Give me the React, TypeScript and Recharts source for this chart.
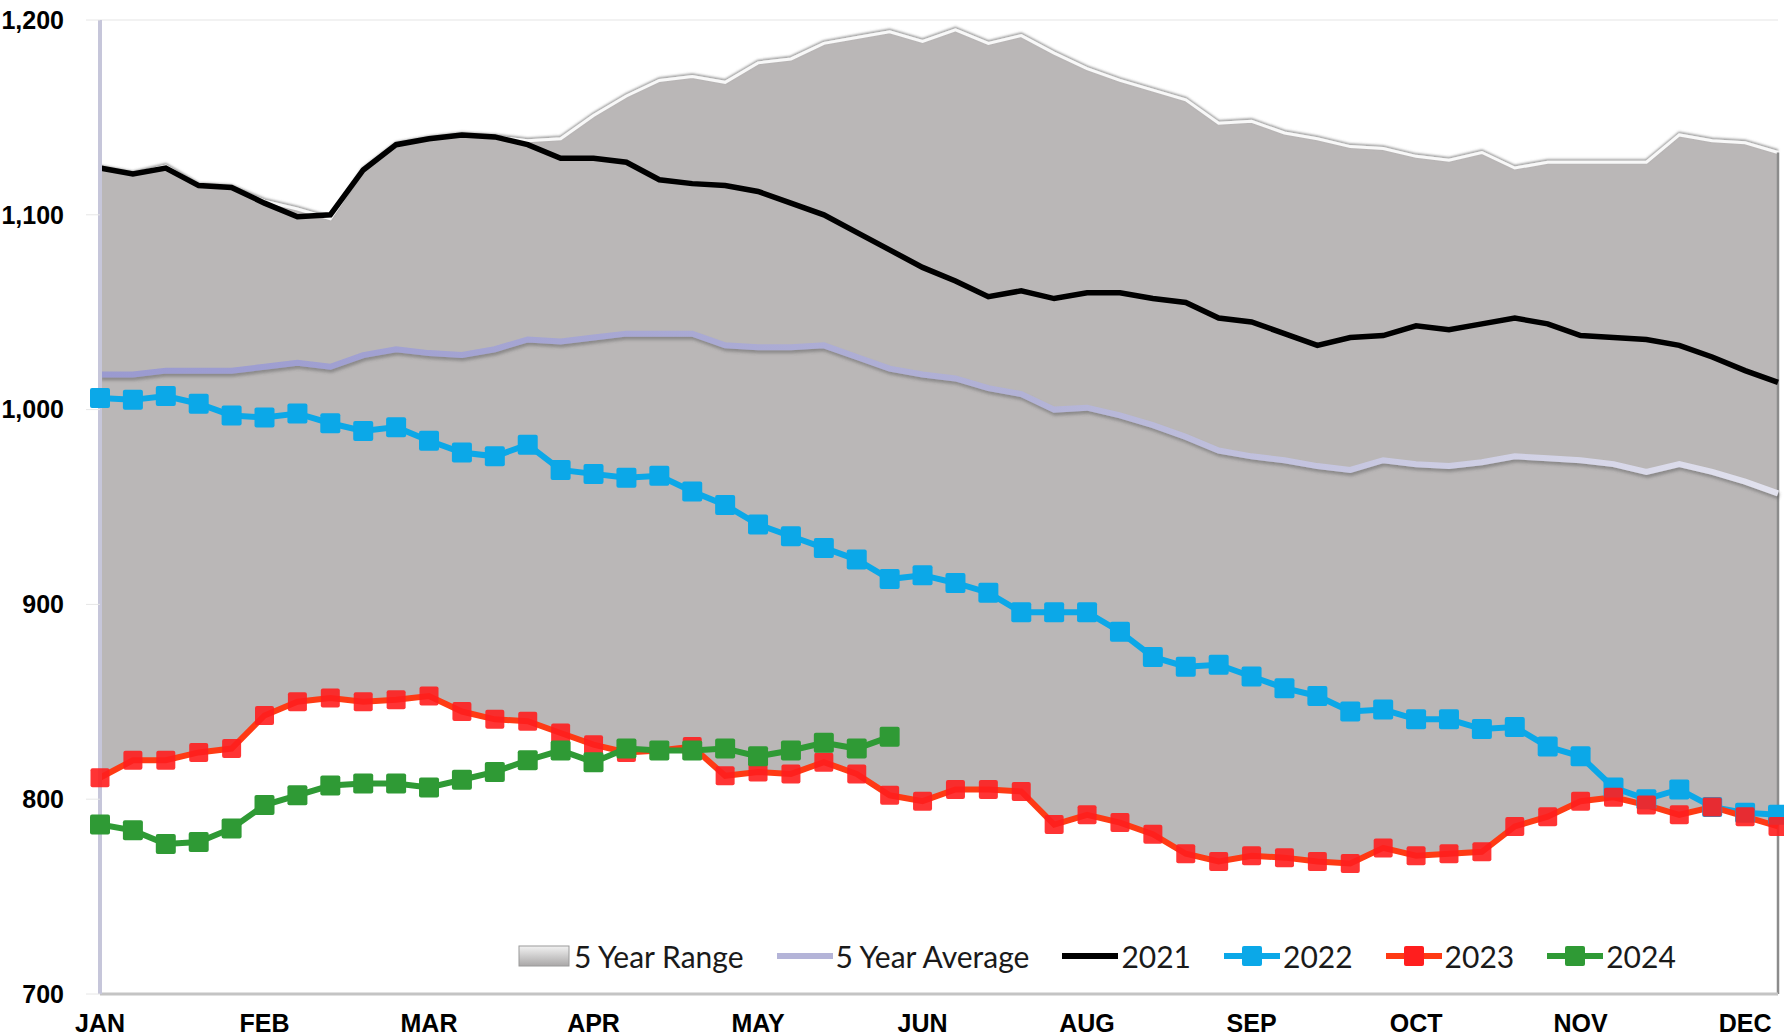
import React from 'react';
import {
  Area,
  ComposedChart,
  Line,
  ReferenceLine,
  XAxis,
  YAxis,
} from 'recharts';

// month label of each week-ending date (52 weeks)
const weekMonth = [
  'JAN', 'JAN', 'JAN', 'JAN',
  'FEB', 'FEB', 'FEB', 'FEB',
  'MAR', 'MAR', 'MAR', 'MAR', 'MAR',
  'APR', 'APR', 'APR', 'APR',
  'MAY', 'MAY', 'MAY', 'MAY', 'MAY',
  'JUN', 'JUN', 'JUN', 'JUN',
  'JUL', 'JUL', 'JUL', 'JUL',
  'AUG', 'AUG', 'AUG', 'AUG', 'AUG',
  'SEP', 'SEP', 'SEP', 'SEP',
  'OCT', 'OCT', 'OCT', 'OCT',
  'NOV', 'NOV', 'NOV', 'NOV', 'NOV',
  'DEC', 'DEC', 'DEC', 'DEC',
];
const tickWeeks = [0, 5, 10, 15, 20, 25, 30, 35, 40, 45, 50];
const yTicks = [700, 800, 900, 1000, 1100, 1200];

const rangeMax = [
  1124, 1121, 1125, 1115, 1114, 1107, 1103, 1098, 1123, 1136, 1139, 1141, 1140,
  1138, 1139, 1151, 1161, 1169, 1171, 1168, 1178, 1180, 1188, 1191, 1194, 1189,
  1195, 1188, 1192, 1183, 1175, 1169, 1164, 1159, 1147, 1148, 1142, 1139, 1135,
  1134, 1130, 1128, 1132, 1124, 1127, 1127, 1127, 1127, 1141, 1138, 1137, 1132,
];
const rangeLow = [
  811, 820, 820, 824, 826, 843, 850, 852, 850, 851, 853, 845, 841,
  840, 834, 828, 824, 825, 827, 812, 814, 813, 819, 813, 802, 799,
  805, 805, 804, 787, 792, 788, 782, 772, 768, 771, 770, 768, 767,
  775, 771, 772, 773, 786, 791, 799, 801, 797, 792, 796, 791, 786,
];
const avg5 = [
  1018, 1018, 1020, 1020, 1020, 1022, 1024, 1022, 1028, 1031, 1029, 1028, 1031,
  1036, 1035, 1037, 1039, 1039, 1039, 1033, 1032, 1032, 1033, 1027, 1021, 1018,
  1016, 1011, 1008, 1000, 1001, 997, 992, 986, 979, 976, 974, 971, 969,
  974, 972, 971, 973, 976, 975, 974, 972, 968, 972, 968, 963, 957,
];
const y2021 = [
  1124, 1121, 1124, 1115, 1114, 1106, 1099, 1100, 1123, 1136, 1139, 1141, 1140,
  1136, 1129, 1129, 1127, 1118, 1116, 1115, 1112, 1106, 1100, 1091, 1082, 1073,
  1066, 1058, 1061, 1057, 1060, 1060, 1057, 1055, 1047, 1045, 1039, 1033, 1037,
  1038, 1043, 1041, 1044, 1047, 1044, 1038, 1037, 1036, 1033, 1027, 1020, 1014,
];
const y2022 = [
  1006, 1005, 1007, 1003, 997, 996, 998, 993, 989, 991, 984, 978, 976,
  982, 969, 967, 965, 966, 958, 951, 941, 935, 929, 923, 913, 915,
  911, 906, 896, 896, 896, 886, 873, 868, 869, 863, 857, 853, 845,
  846, 841, 841, 836, 837, 827, 822, 806, 800, 805, 796, 793, 792,
];
const y2023 = [
  811, 820, 820, 824, 826, 843, 850, 852, 850, 851, 853, 845, 841,
  840, 834, 828, 824, 825, 827, 812, 814, 813, 819, 813, 802, 799,
  805, 805, 804, 787, 792, 788, 782, 772, 768, 771, 770, 768, 767,
  775, 771, 772, 773, 786, 791, 799, 801, 797, 792, 796, 791, 786,
];
const y2024 = [
  787, 784, 777, 778, 785, 797, 802, 807, 808, 808, 806, 810, 814,
  820, 825, 819, 826, 825, 825, 826, 822, 825, 829, 826, 832,
];

const BLUE = '#0BA8E8';
const RED_LINE = '#FF3A14';
const RED_DOT = '#FF1E1E';
const GREEN = '#2F9A35';

const data = weekMonth.map((_, i) => ({
  week: i,
  range: [rangeLow[i], rangeMax[i]],
  rangeTop: rangeMax[i],
  avg: avg5[i],
  y2021: y2021[i],
  y2022: y2022[i],
  y2023: y2023[i],
  y2024: i < y2024.length ? y2024[i] : null,
}));

const squareDot =
  (fill: string, size: number, opacity = 1) =>
  (p: any) => {
    const { cx, cy, index } = p;
    if (cx == null || cy == null) return <g key={`n-${index}`} />;
    return (
      <rect
        key={`d-${index}`}
        x={cx - size / 2}
        y={cy - size / 2}
        width={size}
        height={size}
        rx={2}
        fill={fill}
        fillOpacity={opacity}
      />
    );
  };

const axisFont = {
  fill: '#000',
  fontFamily: "'Liberation Sans Narrow', 'Arial Narrow', 'Liberation Sans', Arial, sans-serif",
  fontWeight: 700,
  fontSize: 25,
};

type LegendItem = { name: string; kind: 'range' | 'line' | 'marker'; color: string };
const legendItems: LegendItem[] = [
  { name: '5 Year Range', kind: 'range', color: '#bab7b7' },
  { name: '5 Year Average', kind: 'line', color: '#b4b4d8' },
  { name: '2021', kind: 'line', color: '#000' },
  { name: '2022', kind: 'marker', color: BLUE },
  { name: '2023', kind: 'marker', color: RED_DOT },
  { name: '2024', kind: 'marker', color: GREEN },
];

function LegendIcon({ item }: { item: LegendItem }) {
  if (item.kind === 'range') {
    return (
      <svg width={54} height={24}>
        <defs>
          <linearGradient id="lg-range" x1="0" y1="0" x2="0" y2="1">
            <stop offset="0%" stopColor="#f2f2f2" />
            <stop offset="100%" stopColor="#a9a7a7" />
          </linearGradient>
        </defs>
        <rect x={2} y={2} width={50} height={20} fill="url(#lg-range)" stroke="#9a9a9a" strokeWidth={1} />
      </svg>
    );
  }
  const lineColor = item.name === '2023' ? RED_LINE : item.color;
  return (
    <svg width={56} height={24}>
      <line x1={0} y1={12} x2={56} y2={12} stroke={lineColor} strokeWidth={6} strokeLinecap="round" />
      {item.kind === 'marker' && <rect x={18} y={2} width={20} height={20} rx={2} fill={item.color} />}
    </svg>
  );
}

export default function App() {
  return (
    <div style={{ position: 'absolute', left: 0, top: 0, width: 1784, height: 1036, background: '#fff' }}>
      <ComposedChart width={1784} height={1036} data={data} margin={{ top: 20, right: 6, bottom: 0, left: 0 }}>
        <defs>
          <linearGradient id="avgGrad" x1="0" y1="0" x2="1" y2="0">
            <stop offset="0%" stopColor="#9a9ad0" />
            <stop offset="55%" stopColor="#b2b2d6" />
            <stop offset="100%" stopColor="#e2e2ee" />
          </linearGradient>
          <filter id="lineShadow" x="-5%" y="-20%" width="110%" height="140%">
            <feDropShadow dx="1" dy="3" stdDeviation="1.5" floodColor="#555" floodOpacity="0.45" />
          </filter>
          <filter id="edgeShadow" x="-5%" y="-20%" width="110%" height="140%">
            <feDropShadow dx="0" dy="-1.5" stdDeviation="1" floodColor="#666" floodOpacity="0.7" />
          </filter>
        </defs>
        <XAxis
          dataKey="week"
          type="number"
          domain={[0, 51]}
          ticks={tickWeeks}
          interval={0}
          tickFormatter={(v) => weekMonth[v as number]}
          height={42}
          tickSize={0}
          tickMargin={20}
          axisLine={{ stroke: '#c4c4c4', strokeWidth: 3 }}
          tick={axisFont}
        />
        <YAxis
          domain={[700, 1200]}
          ticks={yTicks}
          interval={0}
          tickFormatter={(v) => Number(v).toLocaleString('en-US')}
          width={100}
          tickSize={14}
          tickMargin={22}
          tickLine={{ stroke: '#e6e6e6' }}
          axisLine={{ stroke: '#c6c6da', strokeWidth: 4 }}
          tick={axisFont}
        />
        <ReferenceLine y={1200} stroke="#eeeeee" strokeWidth={1.5} />
        <Area
          dataKey="range"
          type="linear"
          fill="#bab7b7"
          fillOpacity={1}
          stroke="none"
          isAnimationActive={false}
        />
        <Line
          dataKey="rangeTop"
          type="linear"
          stroke="#f8f8f8"
          strokeWidth={3}
          dot={false}
          filter="url(#edgeShadow)"
          isAnimationActive={false}
        />
        <ReferenceLine
          segment={[
            { x: 51, y: 700 },
            { x: 51, y: rangeMax[51] },
          ]}
          stroke="#8c8c8c"
          strokeWidth={2.5}
        />
        <Line
          dataKey="avg"
          type="linear"
          stroke="url(#avgGrad)"
          strokeWidth={6}
          dot={false}
          filter="url(#lineShadow)"
          isAnimationActive={false}
        />
        <Line dataKey="y2021" type="linear" stroke="#000" strokeWidth={5.5} dot={false} isAnimationActive={false} />
        <Line
          dataKey="y2022"
          type="linear"
          stroke={BLUE}
          strokeWidth={6}
          dot={squareDot(BLUE, 20)}
          activeDot={false}
          isAnimationActive={false}
        />
        <Line
          dataKey="y2023"
          type="linear"
          stroke={RED_LINE}
          strokeWidth={6}
          dot={squareDot(RED_DOT, 19, 0.9)}
          activeDot={false}
          isAnimationActive={false}
        />
        <Line
          dataKey="y2024"
          type="linear"
          stroke={GREEN}
          strokeWidth={6}
          dot={squareDot(GREEN, 20)}
          activeDot={false}
          connectNulls={false}
          isAnimationActive={false}
        />
      </ComposedChart>
      <div
        style={{
          position: 'absolute',
          left: 517,
          top: 937,
          display: 'flex',
          alignItems: 'center',
          gap: 33,
          fontFamily: "Lato, 'Open Sans', sans-serif",
          fontSize: 30,
          color: '#1a1a1a',
          lineHeight: '38px',
        }}
      >
        {legendItems.map((it) => (
          <div key={it.name} style={{ display: 'flex', alignItems: 'center', gap: 3 }}>
            <LegendIcon item={it} />
            <span>{it.name}</span>
          </div>
        ))}
      </div>
    </div>
  );
}
